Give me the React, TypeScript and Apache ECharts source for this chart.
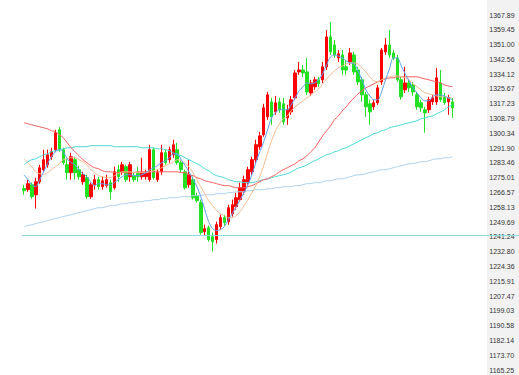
import React, { useEffect, useRef } from "react";
import * as echarts from "echarts";

// Right-hand axis tick labels (top to bottom)
const yTicks = [
  "1367.89", "1359.45", "1351.00", "1342.56", "1334.12", "1325.67", "1317.23", "1308.79",
  "1300.34", "1291.90", "1283.46", "1275.01", "1266.57", "1258.13", "1249.69", "1241.24",
  "1232.80", "1224.36", "1215.91", "1207.47", "1199.03", "1190.58", "1182.14", "1173.70", "1165.25",
];

// Reference level (horizontal line)
const refLevel = 1242.0;

// OHLC candles: [open, close, low, high]
const candles: number[][] = [
  [1268.8, 1267.6, 1265.3, 1271.0], [1268.2, 1271.6, 1267.0, 1273.9], [1271.0, 1264.2, 1263.0, 1272.2],
  [1265.3, 1272.7, 1257.4, 1275.0], [1272.7, 1280.7, 1271.6, 1282.4], [1279.6, 1285.3, 1278.4, 1291.0],
  [1282.4, 1288.1, 1280.7, 1291.0], [1287.0, 1289.8, 1285.3, 1292.1], [1291.0, 1300.7, 1289.8, 1302.4],
  [1302.4, 1291.0, 1289.8, 1304.1], [1291.0, 1283.6, 1282.4, 1292.1], [1282.4, 1277.9, 1273.9, 1286.4],
  [1277.9, 1287.0, 1273.9, 1289.3], [1285.3, 1277.9, 1273.9, 1287.0], [1279.6, 1275.6, 1273.9, 1281.8],
  [1272.7, 1276.7, 1271.0, 1278.4], [1275.0, 1264.2, 1263.0, 1276.7], [1264.2, 1271.0, 1263.0, 1272.2],
  [1271.0, 1273.9, 1268.2, 1276.7], [1273.9, 1269.9, 1268.2, 1275.6], [1269.9, 1273.3, 1268.2, 1275.6],
  [1270.5, 1273.9, 1269.3, 1276.7], [1272.2, 1267.0, 1262.5, 1273.9], [1269.3, 1278.4, 1268.2, 1281.3],
  [1279.6, 1275.6, 1272.7, 1282.4], [1278.4, 1282.4, 1276.7, 1284.1], [1281.3, 1273.9, 1272.7, 1282.4],
  [1275.6, 1282.4, 1272.7, 1284.1], [1276.2, 1273.9, 1272.7, 1278.4], [1277.9, 1275.6, 1272.7, 1281.3],
  [1275.6, 1277.9, 1273.9, 1286.4], [1275.6, 1277.9, 1273.9, 1279.6], [1273.9, 1291.0, 1272.7, 1293.8],
  [1291.0, 1275.0, 1273.9, 1292.1], [1273.9, 1277.9, 1272.7, 1279.6], [1278.4, 1289.3, 1276.7, 1293.8],
  [1289.3, 1283.6, 1282.4, 1291.0], [1285.3, 1291.0, 1283.6, 1292.7], [1288.1, 1293.8, 1286.4, 1296.7],
  [1291.0, 1283.6, 1282.4, 1294.9], [1283.6, 1279.6, 1277.9, 1285.3], [1278.4, 1269.3, 1268.2, 1279.6],
  [1271.0, 1276.7, 1269.3, 1285.3], [1273.9, 1263.6, 1262.5, 1275.6], [1264.8, 1261.9, 1260.8, 1266.5],
  [1260.8, 1243.7, 1242.5, 1262.5], [1244.2, 1245.9, 1242.0, 1248.2], [1246.5, 1239.7, 1238.5, 1247.7],
  [1241.4, 1238.5, 1232.9, 1243.7], [1239.7, 1248.2, 1237.4, 1249.9], [1247.1, 1252.2, 1245.4, 1253.9],
  [1252.2, 1249.4, 1247.7, 1253.9], [1249.9, 1257.9, 1248.2, 1259.6], [1254.5, 1259.6, 1252.8, 1262.5],
  [1258.5, 1263.6, 1256.8, 1266.5], [1262.5, 1269.3, 1261.4, 1272.2], [1267.0, 1273.9, 1265.3, 1276.2],
  [1272.2, 1279.6, 1271.0, 1281.3], [1278.4, 1285.3, 1276.7, 1287.0], [1285.3, 1293.8, 1283.6, 1296.7],
  [1292.7, 1298.9, 1291.0, 1301.2], [1299.5, 1314.9, 1298.4, 1317.2], [1309.8, 1322.3, 1308.1, 1324.0],
  [1318.3, 1309.8, 1305.2, 1320.6], [1312.6, 1317.8, 1310.9, 1321.7], [1318.3, 1313.8, 1312.0, 1320.6],
  [1317.2, 1306.9, 1305.2, 1320.6], [1309.2, 1313.8, 1305.2, 1316.6], [1312.6, 1319.5, 1310.9, 1321.7],
  [1320.6, 1334.8, 1319.5, 1336.5], [1335.4, 1336.5, 1333.7, 1341.1], [1336.5, 1334.8, 1332.6, 1339.4],
  [1335.4, 1324.0, 1322.3, 1343.4], [1323.4, 1329.1, 1321.7, 1330.9], [1326.9, 1330.9, 1325.2, 1332.6],
  [1330.9, 1328.6, 1326.9, 1332.6], [1330.9, 1338.3, 1329.1, 1341.1], [1338.3, 1355.4, 1336.5, 1359.3],
  [1355.4, 1346.8, 1345.1, 1363.9], [1350.8, 1345.1, 1343.4, 1353.6], [1343.4, 1345.7, 1341.1, 1347.9],
  [1345.1, 1336.5, 1333.7, 1347.9], [1338.3, 1336.5, 1333.7, 1342.3], [1341.1, 1346.2, 1339.4, 1349.1],
  [1345.1, 1335.4, 1333.7, 1346.8], [1336.5, 1329.7, 1328.0, 1338.3], [1330.9, 1322.3, 1318.3, 1332.6],
  [1322.3, 1315.5, 1309.8, 1324.0], [1317.2, 1312.6, 1305.2, 1319.5], [1315.5, 1317.8, 1313.8, 1319.5],
  [1317.8, 1326.3, 1316.6, 1328.0], [1329.7, 1347.9, 1328.0, 1349.1], [1346.8, 1350.8, 1345.1, 1354.8],
  [1350.8, 1345.1, 1343.4, 1359.3], [1346.2, 1343.4, 1342.3, 1347.9], [1343.4, 1330.9, 1329.7, 1345.1],
  [1330.9, 1321.2, 1319.5, 1332.6], [1325.2, 1329.1, 1323.4, 1338.3], [1329.1, 1326.3, 1324.0, 1330.9],
  [1328.0, 1324.0, 1321.7, 1329.7], [1322.3, 1315.5, 1313.8, 1324.0], [1317.8, 1314.9, 1312.6, 1319.5],
  [1313.8, 1312.0, 1300.7, 1315.5], [1313.8, 1319.5, 1312.0, 1321.2], [1318.3, 1320.6, 1316.6, 1322.3],
  [1318.3, 1332.0, 1316.6, 1337.7], [1329.1, 1319.5, 1318.3, 1336.5], [1321.2, 1317.8, 1316.6, 1323.4],
  [1318.3, 1320.6, 1310.9, 1322.3], [1318.3, 1314.9, 1309.2, 1320.6],
];

const ma5 = [
  1276.7, 1273.9, 1271.0, 1269.9, 1273.9, 1278.4, 1283.0, 1287.0, 1289.8, 1291.0,
  1289.8, 1285.8, 1283.6, 1282.4, 1279.6, 1277.3, 1275.6, 1272.7, 1270.5, 1271.6,
  1271.6, 1271.0, 1271.0, 1272.2, 1273.9, 1275.6, 1276.7, 1276.7, 1276.2, 1276.2,
  1276.7, 1277.9, 1279.6, 1280.7, 1281.9, 1283.6, 1284.7, 1286.4, 1288.7, 1288.7,
  1285.3, 1281.9, 1278.4, 1274.4, 1269.9, 1264.2, 1256.8, 1249.9, 1246.0, 1244.8,
  1245.4, 1247.1, 1251.1, 1254.5, 1258.5, 1262.5, 1266.5, 1271.0, 1276.7, 1283.6,
  1289.8, 1295.5, 1302.4, 1309.2, 1312.1, 1313.8, 1313.8, 1313.8, 1316.6, 1320.6,
  1324.6, 1326.9, 1329.2, 1328.6, 1329.2, 1330.9, 1334.3, 1339.4, 1344.0, 1345.1,
  1344.5, 1343.4, 1341.7, 1340.5, 1340.0, 1336.0, 1330.9, 1325.2, 1321.7, 1319.5,
  1319.5, 1324.0, 1330.9, 1337.1, 1343.4, 1343.4, 1338.8, 1334.3, 1330.3, 1326.3,
  1323.5, 1320.6, 1318.9, 1318.9, 1321.2, 1322.3, 1322.3, 1321.7, 1320.6, 1319.5,
];

const ma10 = [
  1285.8, 1283.6, 1281.3, 1278.4, 1277.3, 1276.7, 1277.9, 1279.6, 1281.3, 1283.0,
  1285.3, 1285.8, 1286.4, 1286.4, 1285.3, 1284.1, 1282.4, 1279.6, 1277.9, 1276.2,
  1275.6, 1275.0, 1275.0, 1276.2, 1277.3, 1278.4, 1278.4, 1278.4, 1277.9, 1277.9,
  1277.9, 1277.9, 1278.4, 1279.0, 1279.6, 1280.7, 1281.9, 1283.0, 1284.1, 1285.3,
  1284.7, 1283.0, 1281.3, 1277.9, 1273.9, 1269.9, 1265.9, 1261.9, 1259.1, 1256.2,
  1254.5, 1253.4, 1252.2, 1252.2, 1253.4, 1255.6, 1259.1, 1262.5, 1266.5, 1270.5,
  1275.6, 1281.9, 1289.3, 1296.1, 1301.8, 1305.8, 1308.6, 1310.3, 1313.2, 1315.5,
  1317.2, 1318.9, 1320.6, 1322.3, 1324.0, 1325.7, 1328.6, 1331.4, 1333.7, 1336.0,
  1337.7, 1338.8, 1340.0, 1340.5, 1340.5, 1340.0, 1337.7, 1335.4, 1332.6, 1330.3,
  1329.7, 1330.9, 1332.0, 1332.6, 1333.1, 1333.1, 1332.6, 1332.0, 1330.9, 1328.6,
  1326.9, 1325.2, 1323.5, 1322.9, 1322.3, 1321.7, 1321.2, 1321.2, 1320.6, 1320.6,
];

const ma20 = [
  1306.4, 1305.8, 1305.2, 1304.6, 1304.1, 1303.5, 1302.9, 1301.8, 1301.2, 1299.5,
  1297.8, 1295.0, 1292.1, 1289.8, 1287.6, 1285.3, 1283.6, 1281.9, 1280.7, 1280.1,
  1279.0, 1278.4, 1278.4, 1277.9, 1277.9, 1277.9, 1277.9, 1277.9, 1277.9, 1278.4,
  1278.4, 1278.4, 1278.4, 1278.4, 1278.4, 1278.4, 1278.4, 1278.4, 1278.4, 1278.4,
  1277.9, 1277.9, 1276.7, 1276.2, 1275.0, 1274.4, 1273.3, 1272.7, 1272.2, 1271.6,
  1271.0, 1270.5, 1270.5, 1269.9, 1269.3, 1269.3, 1269.3, 1269.9, 1270.5, 1271.6,
  1272.7, 1273.9, 1274.4, 1275.6, 1276.7, 1278.4, 1279.6, 1280.7, 1281.9, 1283.0,
  1284.7, 1285.8, 1287.6, 1289.8, 1292.1, 1295.5, 1298.9, 1301.8, 1304.6, 1308.1,
  1310.3, 1313.2, 1315.5, 1318.3, 1320.6, 1322.9, 1324.6, 1326.3, 1327.4, 1328.6,
  1329.7, 1330.9, 1331.4, 1332.0, 1332.0, 1332.6, 1332.6, 1332.6, 1332.6, 1332.6,
  1332.6, 1332.0, 1331.4, 1330.9, 1330.3, 1329.7, 1329.2, 1328.0, 1327.4, 1326.9,
];

const ma60 = [
  1282.4, 1284.1, 1285.3, 1285.8, 1287.0, 1288.1, 1288.7, 1289.8, 1290.4, 1291.0,
  1291.5, 1292.1, 1292.1, 1292.7, 1292.7, 1292.7, 1292.7, 1293.3, 1293.3, 1293.3,
  1293.3, 1293.3, 1293.3, 1292.7, 1292.7, 1292.7, 1292.7, 1292.7, 1292.7, 1292.7,
  1292.1, 1292.1, 1292.1, 1292.1, 1291.5, 1291.5, 1291.0, 1290.4, 1289.3, 1288.1,
  1287.6, 1286.4, 1285.3, 1284.1, 1283.0, 1281.9, 1280.1, 1279.0, 1277.3, 1276.2,
  1275.6, 1275.0, 1273.9, 1273.3, 1272.7, 1272.7, 1272.2, 1272.2, 1272.2, 1272.7,
  1273.3, 1273.9, 1274.4, 1275.0, 1275.6, 1276.2, 1276.7, 1277.3, 1278.4, 1279.6,
  1280.7, 1281.3, 1282.4, 1283.6, 1284.7, 1285.8, 1287.0, 1288.1, 1288.7, 1289.8,
  1290.4, 1291.5, 1292.1, 1293.3, 1294.4, 1295.5, 1296.7, 1297.8, 1298.9, 1300.1,
  1300.7, 1301.8, 1302.4, 1303.5, 1304.1, 1304.6, 1305.2, 1305.8, 1306.4, 1306.9,
  1307.5, 1308.6, 1309.2, 1309.8, 1310.3, 1311.5, 1312.6, 1313.8, 1315.5, 1316.6,
];

const ma120 = [
  1247.1, 1247.7, 1248.2, 1248.8, 1249.4, 1249.9, 1250.5, 1251.1, 1251.7, 1252.2,
  1252.8, 1253.4, 1253.9, 1254.5, 1255.1, 1255.6, 1256.2, 1256.8, 1257.4, 1257.9,
  1257.9, 1258.5, 1259.1, 1259.1, 1259.6, 1260.2, 1260.2, 1260.8, 1260.8, 1261.3,
  1261.3, 1261.9, 1261.9, 1262.5, 1262.5, 1263.1, 1263.1, 1263.6, 1263.6, 1263.6,
  1264.2, 1264.2, 1264.2, 1264.8, 1264.8, 1264.8, 1265.3, 1265.3, 1265.3, 1265.9,
  1265.9, 1265.9, 1266.5, 1266.5, 1267.0, 1267.0, 1267.0, 1267.6, 1267.6, 1268.2,
  1268.2, 1268.2, 1268.7, 1268.7, 1269.3, 1269.3, 1269.9, 1269.9, 1269.9, 1270.5,
  1270.5, 1271.0, 1271.6, 1271.6, 1272.2, 1272.2, 1272.7, 1273.3, 1273.3, 1273.9,
  1274.4, 1274.4, 1275.0, 1275.6, 1276.2, 1276.7, 1276.7, 1277.3, 1277.9, 1278.4,
  1279.0, 1279.6, 1279.6, 1280.1, 1280.7, 1281.3, 1281.9, 1282.4, 1283.0, 1283.0,
  1283.6, 1284.1, 1284.1, 1284.7, 1285.3, 1285.8, 1285.8, 1286.4, 1286.4, 1287.0,
];

const categories = candles.map((_, i) => String(i + 1));

export default function App() {
  const ref = useRef<HTMLDivElement>(null);

  useEffect(() => {
    if (!ref.current) return;
    const chart = echarts.init(ref.current, undefined, { renderer: "svg" });
    const yMax = parseFloat(yTicks[0]);
    const yMin = parseFloat(yTicks[yTicks.length - 1]);
    const step = (yMax - yMin) / (yTicks.length - 1);

    const lineSeries = (name: string, data: number[], color: string) => ({
      name,
      type: "line",
      data,
      symbol: "none",
      smooth: 0.3,
      lineStyle: { color, width: 1 },
      z: 3,
    });

    chart.setOption({
      animation: false,
      backgroundColor: "#ffffff",
      grid: { left: 22, right: 64.7, top: 15, bottom: 5 },
      xAxis: {
        type: "category",
        data: categories,
        boundaryGap: true,
        show: false,
      },
      yAxis: {
        type: "value",
        position: "right",
        min: yMin,
        max: yMax,
        interval: step,
        z: 10,
        axisLine: { show: false },
        axisTick: { show: false },
        splitLine: { show: false },
        axisLabel: {
          margin: 35,
          align: "left",
          fontSize: 7,
          fontFamily: "Liberation Sans, Arial, sans-serif",
          color: "#333333",
          formatter: (v: number) => {
            const idx = Math.round((yMax - v) / step);
            return yTicks[Math.max(0, Math.min(yTicks.length - 1, idx))];
          },
        },
      },
      series: [
        lineSeries("MA120", ma120, "#acd0ee"),
        lineSeries("MA60", ma60, "#45d6d6"),
        lineSeries("MA20", ma20, "#f45c5c"),
        lineSeries("MA10", ma10, "#f4bb8e"),
        lineSeries("MA5", ma5, "#5c9ff2"),
        {
          name: "K",
          type: "candlestick",
          data: candles,
          barWidth: 3,
          z: 2,
          itemStyle: {
            color: "#ff0000",
            color0: "#22e022",
            borderColor: "#ff0000",
            borderColor0: "#22e022",
            borderWidth: 1,
          },
        },
      ],
    });

    const yPix = chart.convertToPixel({ yAxisIndex: 0 }, refLevel) as number;
    chart.setOption({
      graphic: [
        {
          type: "rect",
          id: "strip",
          z: 0,
          silent: true,
          shape: { x: 487, y: 0, width: 32, height: 375 },
          style: { fill: "#f2f2f2" },
        },
        {
          type: "line",
          id: "ref",
          z: 20,
          silent: true,
          shape: { x1: 22, y1: yPix, x2: 519, y2: yPix },
          style: { stroke: "#86dede", lineWidth: 1 },
        },
      ],
    });

    return () => chart.dispose();
  }, []);

  return (
    <div
      ref={ref}
      style={{ position: "fixed", left: 0, top: 0, width: 519, height: 375 }}
    />
  );
}
